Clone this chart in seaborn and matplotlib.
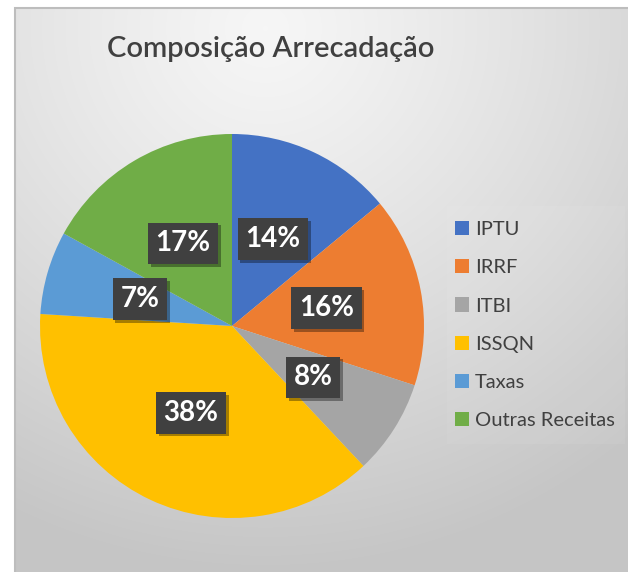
import numpy as np
import matplotlib
matplotlib.use("Agg")
import matplotlib.pyplot as plt
import matplotlib.patheffects as pe
from matplotlib.patches import Rectangle
import seaborn as sns

# data
categories = ["IPTU", "IRRF", "ITBI", "ISSQN", "Taxas", "Outras Receitas"]
shares = [14, 16, 8, 38, 7, 17]
colors = ["#4472C4", "#ED7D31", "#A5A5A5", "#FFC000", "#5B9BD5", "#70AD47"]
title = "Composição Arrecadação"

sns.set_theme(style="white")
plt.rcParams["font.family"] = ["Lato", "DejaVu Sans"]

W, H = 628, 572
fig = plt.figure(figsize=(W / 100, H / 100), dpi=100)
fig.patch.set_facecolor("white")

# chart area background: radial gradient, light at top centre
bx0, by0 = 15, 8
bg = fig.add_axes([bx0 / W, 0, 1 - bx0 / W, 1 - by0 / H])
yy, xx = np.mgrid[0:H - by0, 0:W - bx0]
d = np.sqrt(((xx - 250) / 560.0) ** 2 + ((yy - 20) / 540.0) ** 2)
d = np.clip(d, 0, 1)
shade = 0.965 - 0.19 * d ** 1.2
bg.imshow(np.dstack([shade, shade, shade]), aspect="auto", extent=[0, 1, 0, 1])
bg.set_xlim(0, 1)
bg.set_ylim(0, 1)
bg.axis("off")
fig.add_artist(Rectangle((bx0 / W, -0.01), 1, 1 - by0 / H + 0.01,
                         transform=fig.transFigure, fill=False,
                         edgecolor="#bdbdbd", linewidth=1.5))
# faint legend panel
fig.add_artist(Rectangle((447 / W, 1 - 444 / H), 178 / W, 238 / H,
                         transform=fig.transFigure, facecolor="white",
                         alpha=0.06, edgecolor="none"))

# pie
cx, cy, r = 232, 326, 192
ax = fig.add_axes([(cx - r) / W, (H - cy - r) / H, 2 * r / W, 2 * r / H])
wedges, texts, autotexts = ax.pie(
    shares, colors=colors, startangle=90, counterclock=False,
    autopct="%1.0f%%", pctdistance=0.5, radius=1,
    wedgeprops=dict(linewidth=0),
    textprops=dict(color="white", fontsize=20, fontweight="bold"),
)
ax.set_xlim(-1, 1)
ax.set_ylim(-1, 1)
ax.set_aspect("equal")
ax.axis("off")
for t in autotexts:
    t.set_bbox(dict(boxstyle="square,pad=0.28", facecolor="#404040",
                    edgecolor="none"))
    t.get_bbox_patch().set_path_effects(
        [pe.SimplePatchShadow(offset=(2, -2), shadow_rgbFace="#000000", alpha=0.35),
         pe.Normal()])

# title
fig.text(271 / W, 1 - 57 / H, title, ha="center", va="baseline",
         fontsize=21, fontweight="semibold", color="#404040")

# legend
handles = [Rectangle((0, 0), 1, 1, facecolor=c, edgecolor="none") for c in colors]
fig.legend(handles, categories, loc="upper left",
           bbox_to_anchor=(455 / W, 1 - 221 / H), frameon=False,
           fontsize=14.5, labelcolor="#404040", handlelength=0.7,
           handleheight=0.7, handletextpad=0.3, labelspacing=1.05,
           borderaxespad=0, borderpad=0)

fig.savefig("out.png", dpi=100)
